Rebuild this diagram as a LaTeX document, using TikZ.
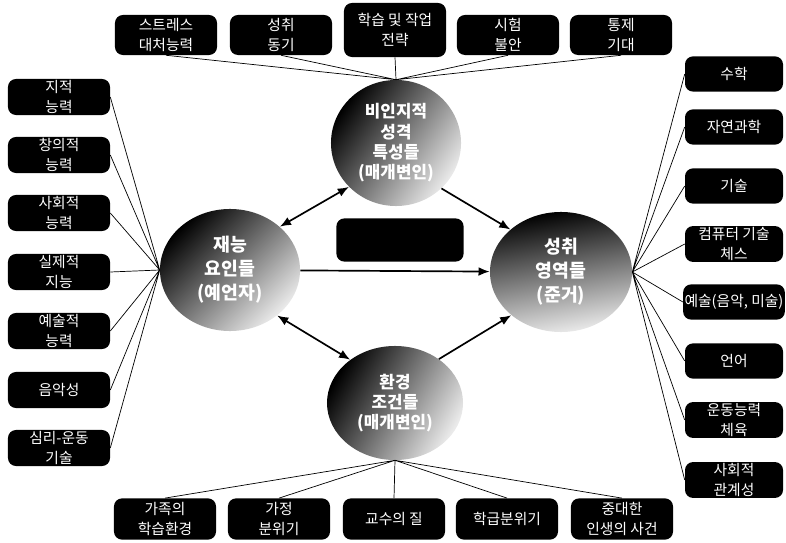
\documentclass[tikz,border=0pt]{standalone}
\usepackage{fontspec}
\setmainfont{Noto Sans CJK KR}
\usepackage{tikz}
\usetikzlibrary{arrows.meta,shapes.geometric}

\tikzset{
  factor/.style={fill=black, text=white, rounded corners=0.2cm, align=center,
    minimum width=2.55cm, minimum height=0.92cm, inner sep=1pt,
    font=\fontsize{10.5}{14}\selectfont},
  area/.style={ellipse, inner sep=0pt, text=white, align=center,
    top color=black, middle color=black!60, bottom color=black!8},
  link/.style={line width=0.5pt},
  flow/.style={line width=1.2pt, -{Latex[length=2.8mm,width=2.2mm]}},
  both/.style={line width=1.2pt, {Latex[length=2.8mm,width=2.2mm]}-{Latex[length=2.8mm,width=2.2mm]}},
}

\begin{document}
\begin{tikzpicture}[x=0.025cm,y=-0.025cm]
  \useasboundingbox (0,0) rectangle (786,543);

  % the four circles
  \node[area, minimum width=3.5cm, minimum height=3.05cm, shading angle=45,
    font=\fontsize{13}{17}\selectfont\bfseries] (talent) at (230,270) {재능\\요인들\\(예언자)};
  \node[area, minimum width=3.55cm, minimum height=3cm, shading angle=10,
    font=\fontsize{13}{17}\selectfont\bfseries] (domain) at (561,272) {성취\\영역들\\(준거)};
  \node[area, minimum width=3.25cm, minimum height=3.15cm, shading angle=55,
    font=\fontsize{12}{14.5}\selectfont\bfseries] (personality) at (396,143) {비인지적\\성격\\특성들\\(매개변인)};
  \node[area, minimum width=3.4cm, minimum height=2.85cm, shading angle=60,
    font=\fontsize{12}{14.5}\selectfont\bfseries] (environ) at (395,403) {환경\\조건들\\(매개변인)};
  \node[fill=black, rounded corners=0.2cm, minimum width=3.18cm, minimum height=1.08cm] (blank) at (400,240) {};

  \draw[both] (talent.41) -- (personality.223);
  \draw[flow] (personality.315) -- (domain.140);
  \draw[flow] (talent) -- (domain);
  \draw[both] (talent.316) -- (environ.136);
  \draw[flow] (environ.45) -- (domain.221);

  % talent factors
  \node[factor, minimum height=0.9cm] (t1) at (59,97) {지적\\능력};
  \node[factor, minimum height=0.9cm] (t2) at (59,155) {창의적\\능력};
  \node[factor, minimum height=0.9cm] (t3) at (59,213) {사회적\\능력};
  \node[factor, minimum height=0.9cm] (t4) at (59,272) {실제적\\지능};
  \node[factor, minimum height=0.9cm] (t5) at (59,331) {예술적\\능력};
  \node[factor, minimum height=0.9cm] (t6) at (59,390) {음악성};
  \node[factor, minimum height=0.9cm] (t7) at (59,448) {심리-운동\\기술};
  \draw[link] (t1.east) -- (talent.west) (t2.east) -- (talent.west)
    (t3.east) -- (talent.west) (t4.east) -- (talent.west)
    (t5.east) -- (talent.west) (t6.east) -- (talent.west)
    (t7.east) -- (talent.west);

  % performance areas
  \node[factor, minimum width=2.45cm, minimum height=0.88cm] (d1) at (734,74) {수학};
  \node[factor, minimum width=2.45cm, minimum height=0.88cm] (d2) at (734,127) {자연과학};
  \node[factor, minimum width=2.45cm, minimum height=0.88cm] (d3) at (734,186) {기술};
  \node[factor, minimum width=2.45cm, minimum height=0.88cm] (d4) at (734,244) {컴퓨터 기술\\체스};
  \node[factor, minimum width=2.45cm, minimum height=0.88cm] (d5) at (734,302) {예술(음악, 미술)};
  \node[factor, minimum width=2.45cm, minimum height=0.88cm] (d6) at (734,361) {언어};
  \node[factor, minimum width=2.45cm, minimum height=0.88cm] (d7) at (734,420) {운동능력\\체육};
  \node[factor, minimum width=2.45cm, minimum height=0.88cm] (d8) at (734,480) {사회적\\관계성};
  \draw[link] (domain.east) -- (d1.west) (domain.east) -- (d2.west)
    (domain.east) -- (d3.west) (domain.east) -- (d4.west)
    (domain.east) -- (d5.west) (domain.east) -- (d6.west)
    (domain.east) -- (d7.west) (domain.east) -- (d8.west);

  % personality characteristics
  \node[factor, minimum height=1cm] (p1) at (166,35) {스트레스\\대처능력};
  \node[factor, minimum height=1cm] (p2) at (281,35) {성취\\동기};
  \node[factor, minimum height=1.35cm] (p3) at (395,30) {학습 및 작업\\전략};
  \node[factor, minimum height=1cm] (p4) at (508,35) {시험\\불안};
  \node[factor, minimum height=1cm] (p5) at (621,35) {통제\\기대};
  \draw[link] (p1.south) -- (personality.north) (p2.south) -- (personality.north)
    (p3.south) -- (personality.north) (p4.south) -- (personality.north)
    (p5.south) -- (personality.north);

  % environmental conditions
  \node[factor, minimum height=1.03cm] (e1) at (165,519) {가족의\\학습환경};
  \node[factor, minimum height=1.03cm] (e2) at (279,519) {가정\\분위기};
  \node[factor, minimum height=1.03cm] (e3) at (394,519) {교수의 질};
  \node[factor, minimum height=1.03cm] (e4) at (507,519) {학급분위기};
  \node[factor, minimum height=1.03cm] (e5) at (622,519) {중대한\\인생의 사건};
  \draw[link] (environ.south) -- (e1.north) (environ.south) -- (e2.north)
    (environ.south) -- (e3.north) (environ.south) -- (e4.north)
    (environ.south) -- (e5.north);
\end{tikzpicture}
\end{document}
